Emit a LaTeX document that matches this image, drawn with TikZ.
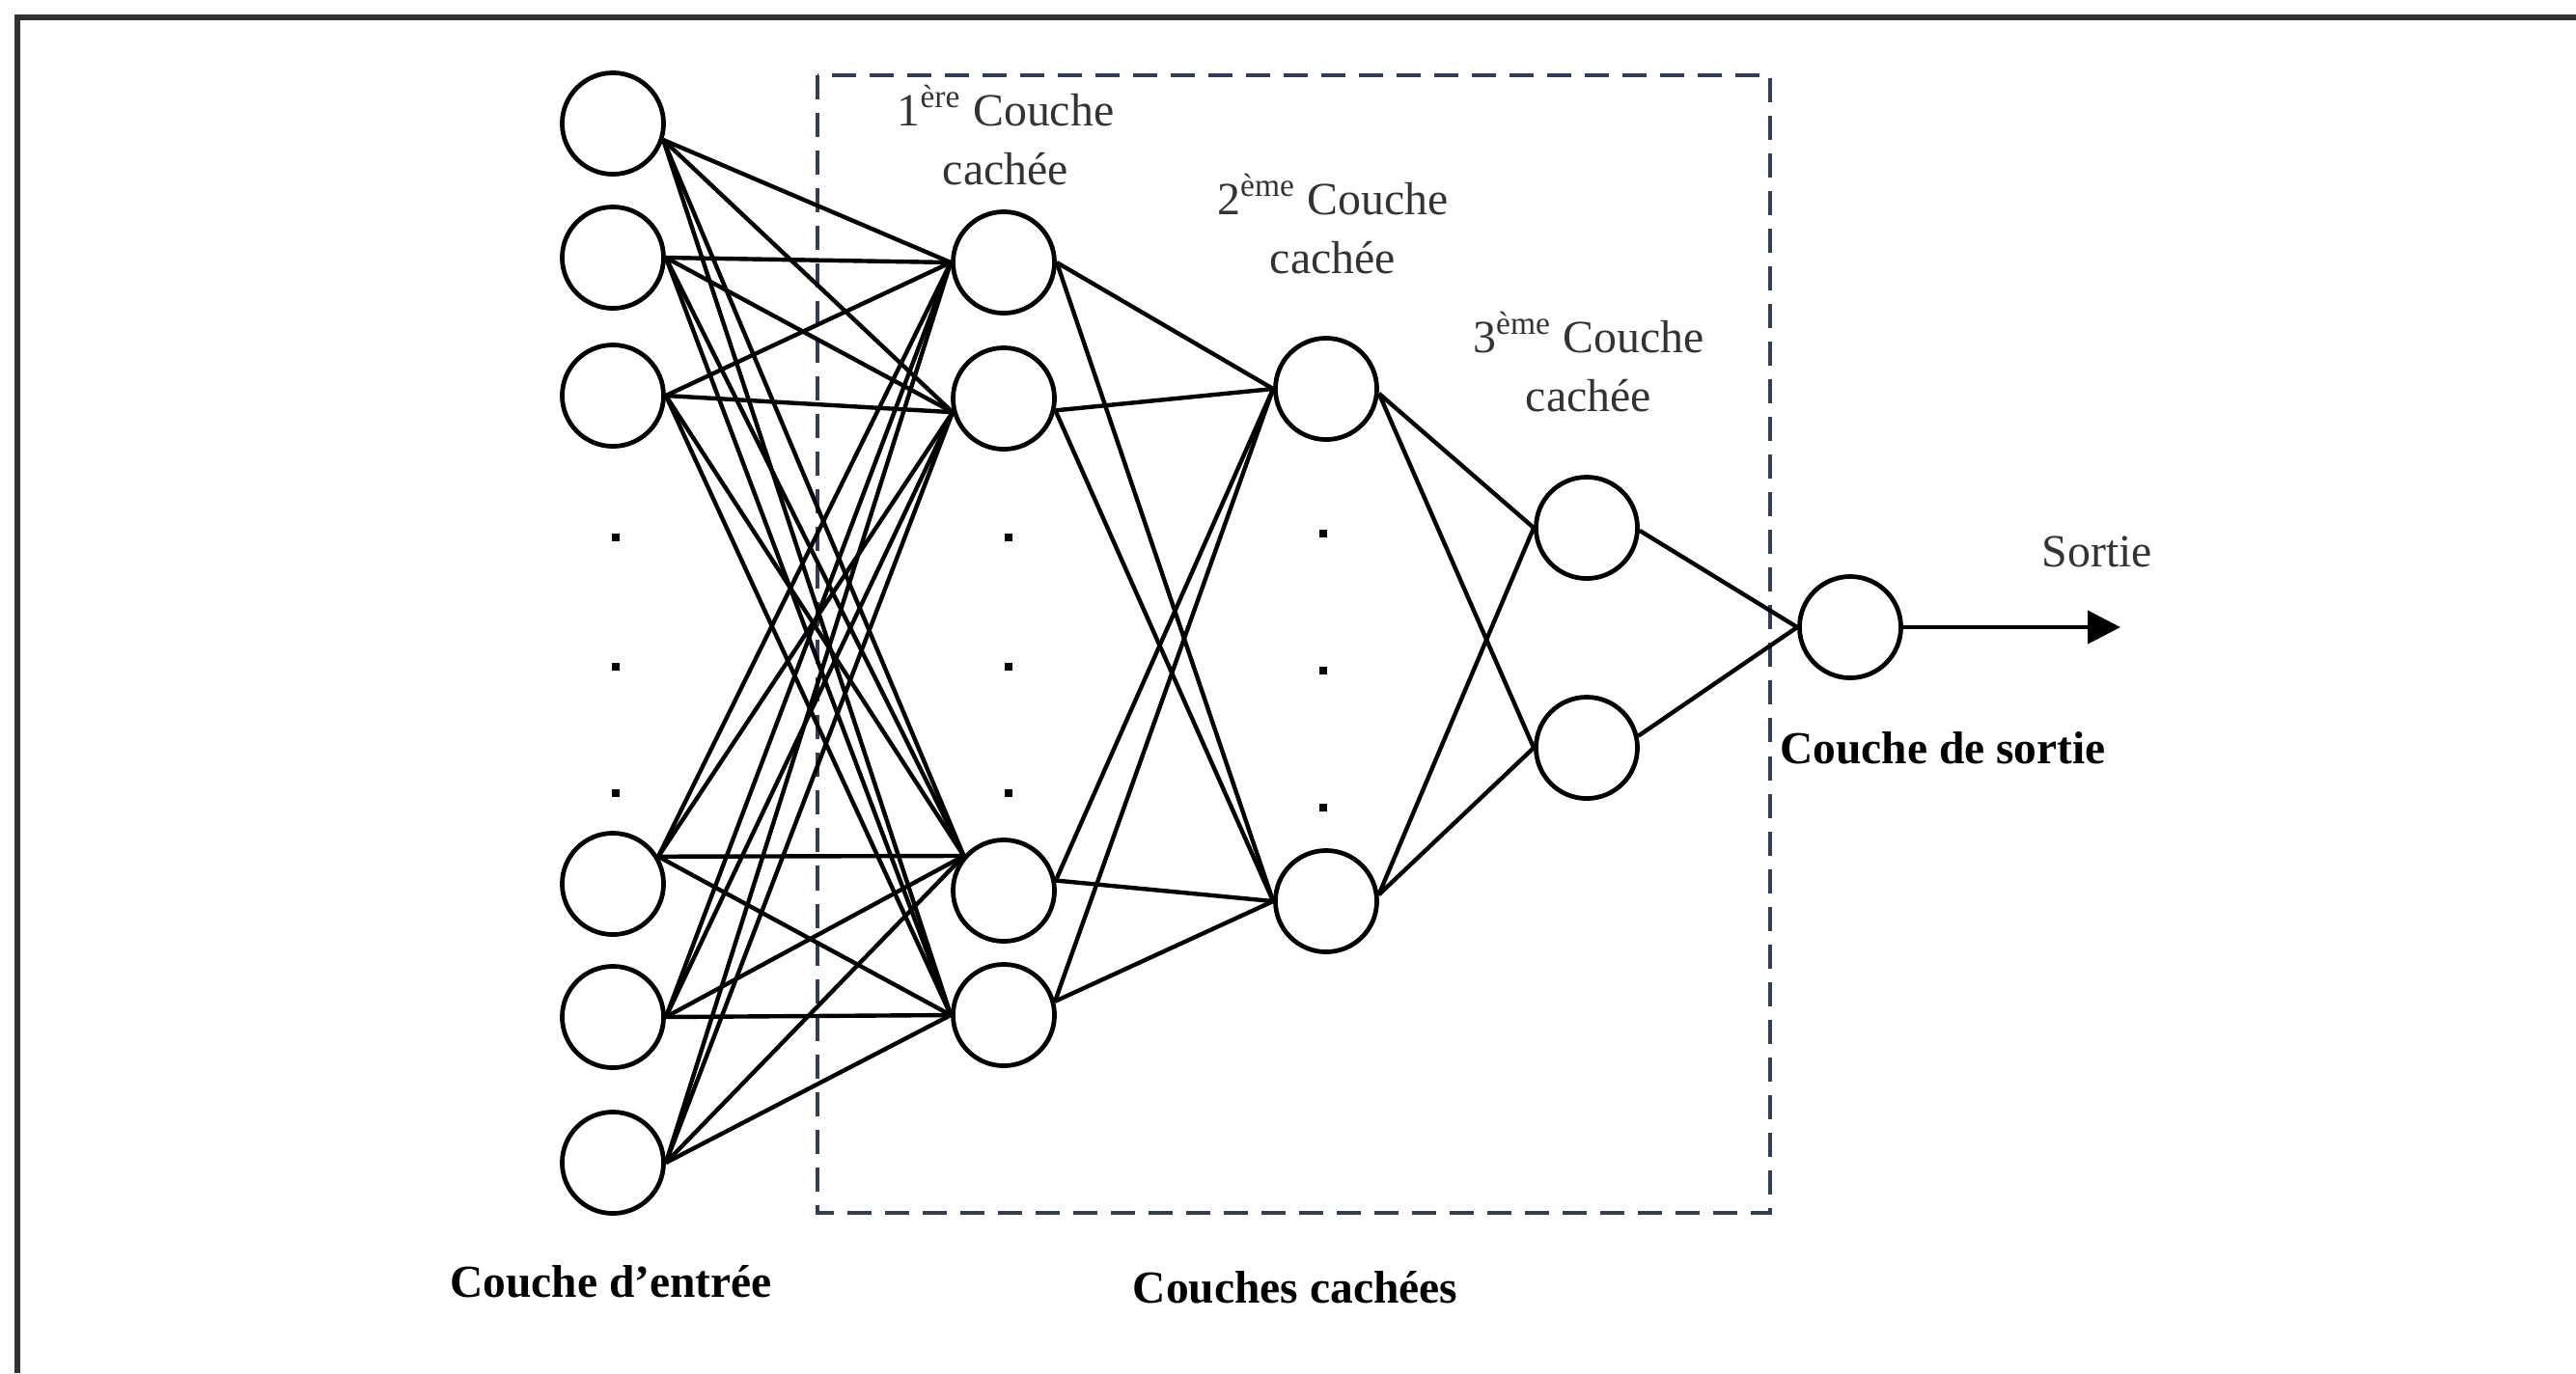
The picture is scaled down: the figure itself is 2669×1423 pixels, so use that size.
\documentclass[tikz,border=0pt]{standalone}
\usepackage{fontspec}
\setmainfont{Liberation Serif}
\usetikzlibrary{arrows.meta}
\definecolor{boxblue}{RGB}{48,62,88}
\definecolor{framegray}{RGB}{50,50,50}
\begin{document}
\begin{tikzpicture}[x=0.01cm,y=-0.01cm,
  neuron/.style={circle,draw=black,line width=1.35pt,minimum size=1.05cm,inner sep=0pt,fill=white},
  link/.style={draw=black,line width=1.25pt},
  dotmark/.style={rectangle,fill=black,minimum size=0.075cm,inner sep=0pt},
  lbl/.style={font=\fontsize{13.6}{17.4}\selectfont,align=center,text=black!80},
  blbl/.style={font=\fontsize{13.5}{16}\selectfont\bfseries,text=black},
]
\useasboundingbox (0,0) rectangle (2669,1423);
\fill[white] (0,0) rectangle (2669,1423);
\draw[framegray,line width=1.5pt] (18,1423) -- (18,18) -- (2669,18);

% dashed box of hidden layers
\draw[boxblue,line width=1.3pt,dash pattern=on 0.25cm off 0.14cm] (847,78) rectangle (1834,1257);

% neurons
\node[neuron] (i1) at (635,128) {};
\node[neuron] (i2) at (635,267) {};
\node[neuron] (i3) at (635,410) {};
\node[neuron] (i4) at (635,916) {};
\node[neuron] (i5) at (635,1054) {};
\node[neuron] (i6) at (635,1205) {};
\node[neuron] (h1) at (1040,272) {};
\node[neuron] (h2) at (1040,413) {};
\node[neuron] (h3) at (1040,923) {};
\node[neuron] (h4) at (1040,1052) {};
\node[neuron] (m1) at (1374,403) {};
\node[neuron] (m2) at (1374,934) {};
\node[neuron] (t1) at (1644,547) {};
\node[neuron] (t2) at (1644,775) {};
\node[neuron] (o) at (1917,650) {};
\coordinate (outend) at (2197,650);

% connections
\foreach \a/\aa in {i1/-18,i2/0,i3/0,i4/31,i5/0,i6/0}
  \foreach \b/\bb in {h1/180,h2/195,h3/139,h4/180}
    \draw[link] (\a.\aa) -- (\b.\bb);
\foreach \a/\aa in {h1/0,h2/-13,h3/11,h4/15}
  \foreach \b in {m1,m2}
    \draw[link] (\a.\aa) -- (\b.west);
\foreach \a/\aa in {m1/-5,m2/7}
  \foreach \b in {t1,t2}
    \draw[link] (\a.\aa) -- (\b.west);
\draw[link] (t1.-3) -- (o.west);
\draw[link] (t2.13) -- (o.west);
\draw[link,-{Triangle[length=0.34cm,width=0.34cm]}] (o.east) -- (outend);

% ellipsis dots
\foreach \y [count=\k] in {557,691,822}{
  \node[dotmark] (di\k) at (638,\y) {};
  \node[dotmark] (dh\k) at (1045,\y) {};
}
\foreach \y [count=\k] in {553,695,837}{
  \node[dotmark] (dm\k) at (1371,\y) {};
}

% labels
\node[lbl] (lab1) at (1042,140) {1\textsuperscript{ère} Couche\\cachée};
\node[lbl] (lab2) at (1381,232) {2\textsuperscript{ème} Couche\\cachée};
\node[lbl] (lab3) at (1646,375) {3\textsuperscript{ème} Couche\\cachée};
\node[lbl] (sortie) at (2173,572) {Sortie};
\node[blbl] (lout) at (2013,775) {Couche de sortie};
\node[blbl] (lin) at (633,1328) {Couche d’entrée};
\node[blbl] (lhid) at (1342,1334) {Couches cachées};
\end{tikzpicture}
\end{document}
